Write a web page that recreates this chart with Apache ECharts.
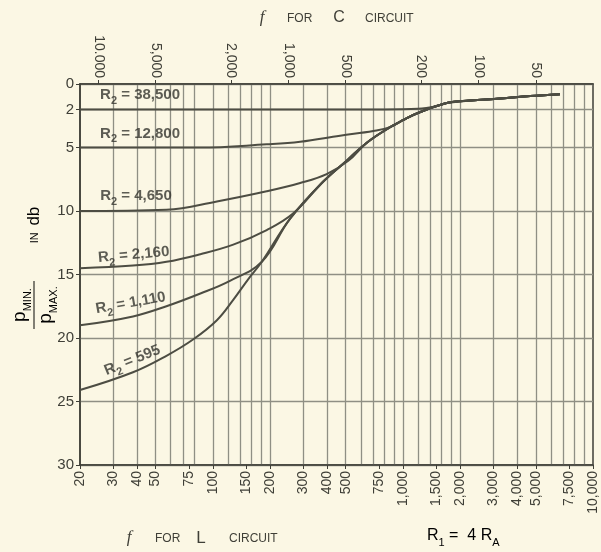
<!DOCTYPE html>
<html><head><meta charset="utf-8">
<script src="https://cdn.jsdelivr.net/npm/echarts@6/dist/echarts.min.js"></script>
<style>html,body{margin:0;padding:0;background:#fbf7e4;}#c{width:601px;height:552px;}</style>
</head><body><div id="c"></div>
<script>
// ---- Bottom axis: f for L circuit (Hz), top axis: f for C circuit ----
const bottomTicks = [20,30,40,50,75,100,150,200,300,400,500,750,1000,1500,2000,3000,4000,5000,7500,10000];
const bottomTickLabels = ['20','30','40','50','75','100','150','200','300','400','500','750','1,000','1,500','2,000','3,000','4,000','5,000','7,500','10,000'];
const gridFreqs = [30,40,50,60,70,80,100,120,140,160,180,200,300,400,500,600,700,800,900,1000,1200,1400,1600,1800,2000,3000,4000,5000,6000,7000,8000,9000];
const topTicks = [10000,5000,2000,1000,500,200,100,50];
const topTickLabels = ['10.000','5,000','2,000','1,000','500','200','100','50'];
const fProduct = 250000; // f_C * f_L
const yTicks = [0,2,5,10,15,20,25,30];

// ---- Curves (f for L circuit in Hz, attenuation in db) ----
const f38500  = [20, 300, 800, 1200, 1500, 1700, 2260, 3250, 4670, 6700];
const db38500 = [2.0, 2.0, 2.0, 1.95, 1.75, 1.5, 1.3, 1.15, 0.95, 0.8];
const f12800  = [20, 50, 85, 192, 288, 467, 699, 856, 1000, 1190, 1700, 2260, 3250, 4670, 6700];
const db12800 = [5.0, 5.0, 5.0, 4.75, 4.55, 4.07, 3.7, 3.4, 2.85, 2.3, 1.5, 1.3, 1.15, 0.95, 0.8];
const f4650   = [20, 57, 105, 192, 288, 397, 516, 648, 856, 1000, 1190, 1700, 2260, 3250, 4670, 6700];
const db4650  = [10.0, 9.9, 9.25, 8.45, 7.8, 7.1, 6.05, 4.6, 3.4, 2.85, 2.3, 1.5, 1.3, 1.15, 0.95, 0.8];
const f2160   = [20, 38, 57, 86, 128, 192, 264, 380, 509, 648, 856, 1000, 1190, 1700, 2260, 3250, 4670, 6700];
const db2160  = [14.5, 14.3, 14.0, 13.4, 12.65, 11.5, 10.2, 7.7, 6.0, 4.6, 3.4, 2.85, 2.3, 1.5, 1.3, 1.15, 0.95, 0.8];
const f1110   = [20, 38, 57, 86, 123, 181, 255, 380, 509, 648, 856, 1000, 1190, 1700, 2260, 3250, 4670, 6700];
const db1110  = [19.0, 18.3, 17.5, 16.5, 15.5, 14.0, 10.6, 7.7, 6.0, 4.6, 3.4, 2.85, 2.3, 1.5, 1.3, 1.15, 0.95, 0.8];
const f595    = [20, 38, 57, 79, 105, 128, 153, 181, 255, 380, 509, 648, 856, 1000, 1190, 1700, 2260, 3250, 4670, 6700];
const db595   = [24.1, 22.7, 21.4, 20.1, 18.6, 17.0, 15.4, 14.0, 10.6, 7.7, 6.0, 4.6, 3.4, 2.85, 2.3, 1.5, 1.3, 1.15, 0.95, 0.8];

const curveNames = ['38,500','12,800','4,650','2,160','1,110','595'];
// label anchor (f, db) and slope angle of each R2 label
const labelF  = [41.4, 41.4, 39.4, 38.4, 37.1, 38];
const labelDb = [1.05, 4.05, 9.0, 13.6, 17.4, 21.9];
const labelRot = [0, 0, 0, 5, 10, 22];

const curves = [[f38500,db38500],[f12800,db12800],[f4650,db4650],[f2160,db2160],[f1110,db1110],[f595,db595]];

const INK = '#3f3f37', TXT = '#34342e', GRID = '#8f8f84', LINE = '#4d4d43';
const FONT = 'Liberation Sans, Arial, sans-serif';
const L10 = Math.log10;

function lookup(vals, labels, v){
  for (let i=0;i<vals.length;i++) if (Math.abs(L10(vals[i])-v) < 1e-6) return labels[i];
  return '';
}

const chart = echarts.init(document.getElementById('c'), null, {renderer:'canvas'});

const series = curves.map((c,i)=>({
  type:'line', xAxisIndex:2, yAxisIndex:0, name:curveNames[i],
  data: c[0].map((f,k)=>[f, c[1][k]]),
  showSymbol:false, smooth:0.4, silent:true,
  lineStyle:{color:LINE, width:2}
}));
series.push({
  type:'scatter', xAxisIndex:2, yAxisIndex:0, symbolSize:0, silent:true,
  data: curveNames.map((n,i)=>({
    value:[labelF[i], labelDb[i]],
    label:{show:true, position:'inside', rotate:labelRot[i],
      formatter:'{m|R}{s|2}{m| = ' + n + '}'}
  })),
  label:{show:true, color:TXT, rich:{
    m:{fontSize:15, fontWeight:'bold', fontFamily:FONT, color:TXT, padding:[0,0,4,0], verticalAlign:'bottom'},
    s:{fontSize:11, fontWeight:'bold', fontFamily:FONT, color:TXT, verticalAlign:'bottom'}
  }}
});

const xLogMin = L10(20), xLogMax = L10(10000);

chart.setOption({
  backgroundColor:'#fbf7e4',
  animation:false,
  grid:{left:80, right:8, top:84, bottom:87, show:true, borderColor:INK, borderWidth:1.5, containLabel:false},
  xAxis:[
    { // bottom labelled axis (log10 space)
      type:'value', position:'bottom', min:xLogMin, max:xLogMax,
      axisLine:{show:true, onZero:false, lineStyle:{color:INK, width:1.5}},
      axisTick:{show:true, length:4, customValues:bottomTicks.map(L10), lineStyle:{color:INK}},
      axisLabel:{show:true, rotate:90, fontSize:14, fontFamily:FONT, color:INK, margin:6,
        customValues:bottomTicks.map(L10), formatter:v=>lookup(bottomTicks,bottomTickLabels,v)},
      splitLine:{show:false}
    },
    { // top axis: f for C circuit
      type:'value', position:'top', inverse:true, min:L10(fProduct/10000), max:L10(fProduct/20),
      axisLine:{show:true, onZero:false, lineStyle:{color:INK, width:1.5}},
      axisTick:{show:true, length:4, customValues:topTicks.map(L10), lineStyle:{color:INK}},
      axisLabel:{show:true, rotate:90, fontSize:14, fontFamily:FONT, color:INK, margin:6,
        customValues:topTicks.map(L10), formatter:v=>lookup(topTicks,topTickLabels,v)},
      splitLine:{show:false}
    },
    { // data axis
      type:'log', logBase:10, min:20, max:10000, show:false
    },
    { // grid lines
      type:'value', min:xLogMin, max:xLogMax, show:true,
      axisLine:{show:false}, axisLabel:{show:false},
      axisTick:{show:false, customValues:gridFreqs.map(L10)},
      splitLine:{show:true, lineStyle:{color:GRID, width:1.3}}
    }
  ],
  yAxis:[{
    type:'value', inverse:true, min:0, max:30,
    axisLine:{show:true, onZero:false, lineStyle:{color:INK, width:1.5}},
    axisTick:{show:true, length:4, customValues:yTicks, lineStyle:{color:INK}},
    axisLabel:{show:true, fontSize:15, fontFamily:FONT, color:INK, margin:6, customValues:yTicks},
    splitLine:{show:true, lineStyle:{color:GRID, width:1.3}}
  }],
  series: series,
  graphic:[
    {type:'group', x:34, y:305, rotation:Math.PI/2, children:[
      {type:'text', x:0, y:-1, style:{text:'{p|p}{s|MIN.}', align:'center', verticalAlign:'bottom',
        rich:{p:{fontSize:19, fontFamily:FONT, color:INK, padding:[0,0,4,0], verticalAlign:'bottom'},
              s:{fontSize:11, fontFamily:FONT, color:INK, verticalAlign:'bottom'}}}},
      {type:'line', shape:{x1:-24,y1:0,x2:24,y2:0}, style:{stroke:INK, lineWidth:1.3}},
      {type:'text', x:0, y:2, style:{text:'{p|p}{s|MAX.}', align:'center', verticalAlign:'top',
        rich:{p:{fontSize:19, fontFamily:FONT, color:INK, padding:[0,0,4,0], verticalAlign:'bottom'},
              s:{fontSize:11, fontFamily:FONT, color:INK, verticalAlign:'bottom'}}}},
      {type:'text', x:80, y:0, style:{text:'{i|IN}  {d|db}', align:'center', verticalAlign:'middle',
        rich:{i:{fontSize:11, fontFamily:FONT, color:INK, verticalAlign:'bottom', padding:[0,0,2,0]},
              d:{fontSize:17, fontFamily:FONT, color:INK, verticalAlign:'bottom'}}}}
    ]},
    // top title
    {type:'text', x:262, y:18, style:{text:'f', font:'italic 17px "Liberation Serif", serif', fill:INK, align:'center', verticalAlign:'middle'}},
    {type:'text', x:287, y:19, style:{text:'FOR', font:'12px "Liberation Sans", Arial', fill:INK, align:'left', verticalAlign:'middle'}},
    {type:'text', x:339, y:18, style:{text:'C', font:'16px "Liberation Sans", Arial', fill:INK, align:'center', verticalAlign:'middle'}},
    {type:'text', x:365, y:19, style:{text:'CIRCUIT', font:'12px "Liberation Sans", Arial', fill:INK, align:'left', verticalAlign:'middle'}},
    // bottom title
    {type:'text', x:129, y:538, style:{text:'f', font:'italic 17px "Liberation Serif", serif', fill:INK, align:'center', verticalAlign:'middle'}},
    {type:'text', x:155, y:539, style:{text:'FOR', font:'12px "Liberation Sans", Arial', fill:INK, align:'left', verticalAlign:'middle'}},
    {type:'text', x:201, y:538, style:{text:'L', font:'17px "Liberation Sans", Arial', fill:INK, align:'center', verticalAlign:'middle'}},
    {type:'text', x:229, y:539, style:{text:'CIRCUIT', font:'12px "Liberation Sans", Arial', fill:INK, align:'left', verticalAlign:'middle'}},
    {type:'text', x:427, y:538, style:{text:'{m|R}{s|1}{m| =  4 R}{s|A}', align:'left', verticalAlign:'middle',
      rich:{m:{fontSize:16, fontFamily:FONT, color:INK, padding:[0,0,4,0], verticalAlign:'bottom'},
            s:{fontSize:11, fontFamily:FONT, color:INK, verticalAlign:'bottom'}}}}
  ]
});
</script></body></html>
